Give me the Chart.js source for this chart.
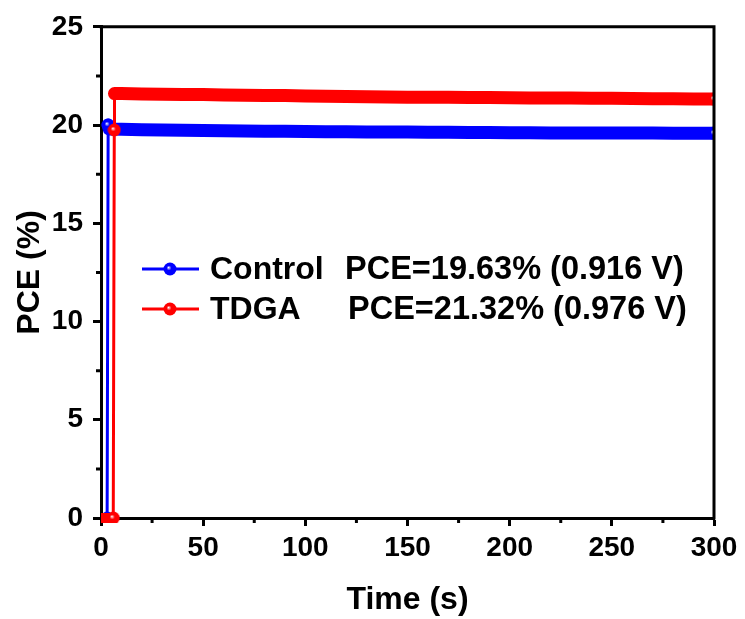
<!DOCTYPE html>
<html>
<head>
<meta charset="utf-8">
<script src="https://cdn.jsdelivr.net/npm/chart.js@4.4.1/dist/chart.umd.min.js"></script>
<style>
  html, body { margin: 0; padding: 0; background: #fff; }
</style>
</head>
<body>
<canvas id="pceChart" width="745" height="619"></canvas>
<script>
// time (s) and PCE (%)
let controlTime = [0, 1, 2, 3, 3.5, 4, 10, 20, 30, 40, 50, 60, 70, 80, 90, 100, 110, 120, 130, 140, 150,
    160, 170, 180, 190, 200, 210, 220, 230, 240, 250, 260, 270, 280, 290, 300];
let controlPCE = [0, 0, 0, 0, 20.0, 19.8, 19.78, 19.76, 19.75, 19.73, 19.72, 19.71, 19.7, 19.69, 19.68, 19.67,
    19.66, 19.66, 19.65, 19.65, 19.64, 19.63, 19.63, 19.62, 19.62, 19.61, 19.61, 19.6, 19.6, 19.6, 19.59,
    19.59, 19.59, 19.58, 19.58, 19.58];

let tdgaTime = [0, 1, 2, 3, 4, 5, 6, 6.5, 6.6, 10, 20, 30, 40, 50, 60, 70, 80, 90, 100, 110, 120, 130, 140,
    150, 160, 170, 180, 190, 200, 210, 220, 230, 240, 250, 260, 270, 280, 290, 300];
let tdgaPCE = [0, 0, 0, 0, 0, 0, 0, 19.75, 21.6, 21.6, 21.58, 21.57, 21.56, 21.55, 21.53, 21.52, 21.5, 21.5,
    21.48, 21.47, 21.45, 21.44, 21.43, 21.42, 21.42, 21.41, 21.4, 21.4, 21.39, 21.38, 21.38, 21.37, 21.36,
    21.36, 21.35, 21.34, 21.34, 21.33, 21.32];

let seriesNames = ["Control", "TDGA"];
let seriesNotes = ["PCE=19.63% (0.916 V)", "PCE=21.32% (0.976 V)"];
let seriesColors = ["#0000ff", "#ff0000"];

let xMax = 300, xStep = 50;
let yMax = 25, yStep = 5;

let fontFamily = "Arial, 'Liberation Sans', sans-serif";

function makeBall(color) {
    let c = document.createElement("canvas");
    c.width = 14;
    c.height = 14;
    let g = c.getContext("2d");
    let grad = g.createRadialGradient(5.5, 5.5, 0, 7, 7, 7);
    grad.addColorStop(0, "#ffffff");
    grad.addColorStop(0.35, color);
    grad.addColorStop(1, color);
    g.fillStyle = grad;
    g.beginPath();
    g.arc(7, 7, 6.5, 0, Math.PI * 2);
    g.fill();
    return c;
}

let balls = seriesColors.map(makeBall);

function toPoints(xs, ys) {
    return xs.map((x, i) => ({ x: x, y: ys[i] }));
}

// a marker sits at the ends of the jumps and on the last point
function isMarked(ctx) {
    let d = ctx.dataset.data;
    let i = ctx.dataIndex;
    if (i === d.length - 1) return true;
    let prev = i > 0 ? d[i - 1].y : d[i].y;
    let next = i < d.length - 1 ? d[i + 1].y : d[i].y;
    return Math.abs(d[i].y - prev) > 5 || Math.abs(next - d[i].y) > 5;
}

function segWidth(ctx) {
    let a = ctx.p0.parsed.y, b = ctx.p1.parsed.y;
    if (Math.abs(a - b) > 1) return 3;
    return a === 0 ? 10 : 13;
}

function makeDataset(idx, points, order) {
    return {
        label: seriesNames[idx],
        data: points,
        borderColor: seriesColors[idx],
        backgroundColor: seriesColors[idx],
        borderWidth: 3,
        borderCapStyle: "round",
        borderJoinStyle: "round",
        segment: { borderWidth: segWidth },
        pointRadius: ctx => isMarked(ctx) ? 6 : 0,
        pointStyle: ctx => isMarked(ctx) ? balls[idx] : "circle",
        pointHoverRadius: 0,
        tension: 0,
        order: order,
        clip: { left: 0, top: 0, right: 1, bottom: 5 }
    };
}

// top and right frame lines plus minor ticks
const frameAndMinor = {
    id: "frameAndMinor",
    afterDatasetsDraw(chart) {
        let { ctx, chartArea } = chart;
        let xs = chart.scales.x, ys = chart.scales.y;
        ctx.save();
        ctx.strokeStyle = "#000";
        ctx.lineWidth = 3;
        ctx.beginPath();
        ctx.moveTo(chartArea.left - 1.5, chartArea.top);
        ctx.lineTo(chartArea.right, chartArea.top);
        ctx.lineTo(chartArea.right, chartArea.bottom + 1.5);
        ctx.stroke();
        ctx.beginPath();
        for (let v = xStep / 2; v < xMax; v += xStep) {
            let px = xs.getPixelForValue(v);
            ctx.moveTo(px, chartArea.bottom + 1);
            ctx.lineTo(px, chartArea.bottom + 5);
        }
        for (let v = yStep / 2; v < yMax; v += yStep) {
            let py = ys.getPixelForValue(v);
            ctx.moveTo(chartArea.left - 1, py);
            ctx.lineTo(chartArea.left - 5, py);
        }
        ctx.stroke();
        ctx.restore();
    }
};

const insideLegend = {
    id: "insideLegend",
    afterDraw(chart) {
        let ctx = chart.ctx;
        let rows = [269, 309];
        let noteX = [345, 348];
        ctx.save();
        chart.data.datasets.forEach((ds, i) => {
            let y = rows[i];
            ctx.strokeStyle = ds.borderColor;
            ctx.lineWidth = 3;
            ctx.beginPath();
            ctx.moveTo(142, y);
            ctx.lineTo(199, y);
            ctx.stroke();
            ctx.drawImage(balls[i], 170 - 7, y - 7);
            ctx.fillStyle = "#000";
            ctx.font = "bold 32px " + fontFamily;
            ctx.textBaseline = "alphabetic";
            ctx.textAlign = "left";
            ctx.fillText(ds.label, 210, y + 10);
            ctx.font = "bold 32.5px " + fontFamily;
            ctx.fillText(seriesNotes[i], noteX[i], y + 10);
        });
        ctx.restore();
    }
};

new Chart(document.getElementById("pceChart"), {
    type: "line",
    data: {
        datasets: [
            makeDataset(0, toPoints(controlTime, controlPCE), 2),
            makeDataset(1, toPoints(tdgaTime, tdgaPCE), 1)
        ]
    },
    options: {
        responsive: false,
        devicePixelRatio: 1,
        animation: false,
        layout: { padding: { top: 26, right: 31, left: 0, bottom: 0 } },
        plugins: {
            legend: { display: false },
            tooltip: { enabled: false }
        },
        scales: {
            x: {
                type: "linear",
                min: 0,
                max: xMax,
                afterFit: s => { s.height = 101; },
                ticks: {
                    stepSize: xStep,
                    maxRotation: 0,
                    color: "#000",
                    padding: 5,
                    font: { family: fontFamily, size: 28, weight: "bold" }
                },
                grid: { drawOnChartArea: false, tickLength: 8, tickWidth: 3, color: "#000" },
                border: { width: 3, color: "#000" },
                title: {
                    display: true,
                    text: "Time (s)",
                    color: "#000",
                    padding: { top: 0, bottom: 0 },
                    font: { family: fontFamily, size: 32, weight: "bold" }
                }
            },
            y: {
                min: 0,
                max: yMax,
                afterFit: s => { s.width = 101; },
                ticks: {
                    stepSize: yStep,
                    color: "#000",
                    padding: 10,
                    font: { family: fontFamily, size: 28, weight: "bold" }
                },
                grid: { drawOnChartArea: false, tickLength: 8, tickWidth: 3, color: "#000" },
                border: { width: 3, color: "#000" },
                title: {
                    display: true,
                    text: "PCE (%)",
                    color: "#000",
                    padding: { top: 11, bottom: 0 },
                    font: { family: fontFamily, size: 32, weight: "bold" }
                }
            }
        }
    },
    plugins: [frameAndMinor, insideLegend]
});
</script>
</body>
</html>
